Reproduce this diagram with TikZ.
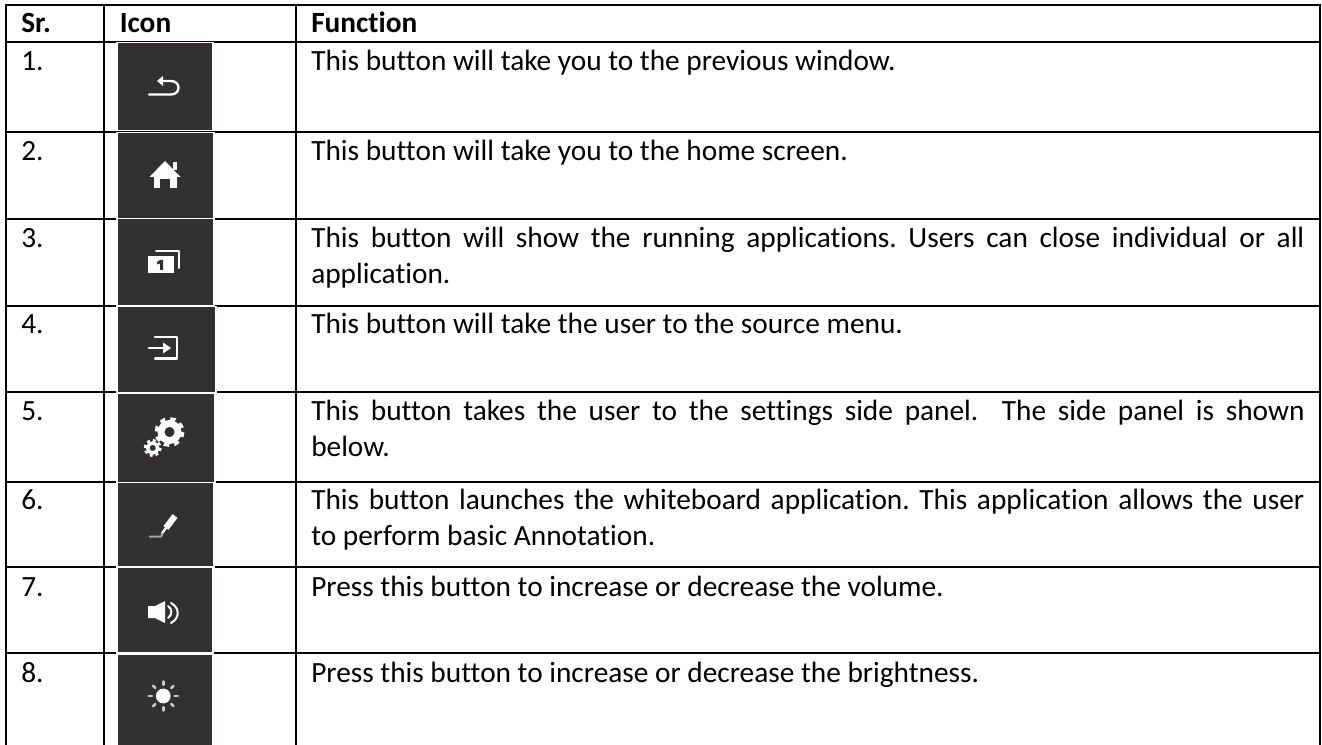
\documentclass[tikz,border=0pt]{standalone}
\usepackage{fontspec}
\usetikzlibrary{calc}
\setmainfont{Carlito}[Ligatures=CommonOff]
\frenchspacing
\definecolor{icondark}{HTML}{323031}
\newcommand{\fullline}[1]{\hbox to 745pt{#1}}
\tikzset{
  x=0.75pt,y=-0.75pt,
  rule/.style={line width=1.5pt,black},
  glyph/.style={draw=white,line width=1.8pt,line cap=round,line join=round},
  celltext/.style={anchor=base west,inner sep=0pt,font=\fontsize{22pt}{27pt}\selectfont,align=left},
  headtext/.style={celltext,font=\fontsize{22pt}{27pt}\selectfont\bfseries},
  functext/.style={celltext,text width=745pt,align=justify}
}
\begin{document}
\begin{tikzpicture}
\useasboundingbox (0,0) rectangle (1322,745);
\fill[white] (0,0) rectangle (1322,745);
% table rules
\draw[rule] (5,5) -- (1320,5);
\foreach \yy in {42,132.5,219,306,392.5,482,566.5,653}{
  \draw[rule] (5,\yy) -- (1320,\yy);
}
\foreach \xx in {6,104,296,1319.5}{
  \draw[rule] (\xx,4) -- (\xx,745);
}
% icon backgrounds
\foreach \xa/\ya/\xb/\yb in {118/43/212/130, 118/133/213/218, 118/219/213/305, 118/307/215/392, 118/394/214/482, 118/483/213/566, 118/568/212/652, 118/655/212/745}{
  \fill[white] (\xa-2,\ya-0.5) rectangle (\xb+2,\yb+1.5);
}
\foreach \xa/\ya/\xb/\yb in {118/43/212/130, 118/133/213/218, 118/219/213/305, 118/307/215/392, 118/394/214/482, 118/483/213/566, 118/568/212/652, 118/655/212/745}{
  \fill[icondark] (\xa,\ya) rectangle (\xb,\yb);
}
% 1 back
\draw[glyph] (149,94.5) -- (171,94.5) .. controls (181,94.5) and (181,81) .. (171,81) -- (160,81);
\fill[white] (157,81) -- (163,86) -- (163,76) -- cycle;
% 2 home
\fill[white] (165,161) -- (149.5,177) -- (180.5,177) -- cycle;
\fill[white] (153.5,176) rectangle (176.5,188);
\fill[icondark] (160,179) rectangle (170,188);
\fill[white] (173,162) rectangle (177,170);
% 3 windows
\draw[glyph,line width=1.5pt] (156,251) -- (179,251) -- (179,268);
\fill[white] (148,256.5) rectangle (174,273);
\fill[icondark] (157,262) -- (160,260) -- (163,260) -- (163,270) -- (160,270) -- (160,263.5) -- (157,264.5) -- cycle;
% 4 source
\draw[glyph] (155,337) -- (177,337) -- (177,358.5) -- (155,358.5);
\draw[glyph] (149,348) -- (165,348);
\fill[white] (163,342.5) -- (171,348) -- (163,353.5) -- cycle;
% 5 gears
\draw[white,line width=3.75pt,dash pattern=on 3.7pt off 3.7pt] (169.5,432) circle[radius=12.5];
\draw[white,line width=5.2pt] (169.5,432) circle[radius=8.5];
\draw[white,line width=2.2pt,dash pattern=on 2.2pt off 2.2pt] (152.7,448) circle[radius=7.5];
\draw[white,line width=2.6pt] (152.7,448) circle[radius=5];
% 6 pen
\draw[white,line width=4.6pt] (166,528) -- (175,516);
\draw[white,line width=1.8pt,line cap=round] (162,533.5) -- (166,528);
\draw[line width=1.5pt,color=white!55!icondark,line cap=round] (149.5,536.5) -- (161,536.5) -- (163,533);
% 7 speaker
\fill[white] (148,606) -- (155,606) -- (165,601) -- (165,623) -- (155,618) -- (148,618) -- cycle;
\draw[glyph,line width=1.5pt] (168,606) .. controls (172.5,609) and (172.5,615) .. (168,618);
\draw[glyph,line width=1.5pt] (171,603) .. controls (180,608) and (180,618) .. (171,623);
% 8 sun
\fill[white] (163.3,696) circle[radius=7.4];
\foreach \aa in {0,45,...,315}{
  \draw[white!75!icondark,line width=1.9pt,line cap=round] ($(163.3,696)+(\aa:11.2)$) -- ($(163.3,696)+(\aa:14.5)$);
}
% header
\node[headtext] (hsr) at (21,33) {Sr.};
\node[headtext] (hicon) at (119.5,33) {Icon};
\node[headtext] (hfun) at (311,33) {Function};
% sr
\node[celltext] (s1) at (21,71) {1.};
\node[celltext] (s2) at (21,160.5) {2.};
\node[celltext] (s3) at (21,248) {3.};
\node[celltext] (s4) at (21,333.5) {4.};
\node[celltext] (s5) at (21,421) {5.};
\node[celltext] (s6) at (21,509.5) {6.};
\node[celltext] (s7) at (21,596) {7.};
\node[celltext] (s8) at (21,682) {8.};
% functions
\node[functext] (f1) at (311,71) {This button will take you to the previous window.};
\node[functext] (f2) at (311,160.5) {This button will take you to the home screen.};
\node[functext] (f3) at (311,248) {\fullline{This button will show the running applications. Users can close individual or all}\par application.};
\node[functext] (f4) at (311,333.5) {This button will take the user to the source menu.};
\node[functext] (f5) at (311,421) {\fullline{This button takes the user to the settings side panel.\ \ The side panel is shown}\par below.};
\node[functext] (f6) at (311,509.5) {\fullline{This button launches the whiteboard application. This application allows the user}\par to perform basic Annotation.};
\node[functext] (f7) at (311,596) {Press this button to increase or decrease the volume.};
\node[functext] (f8) at (311,682) {Press this button to increase or decrease the brightness.};
\end{tikzpicture}
\end{document}
